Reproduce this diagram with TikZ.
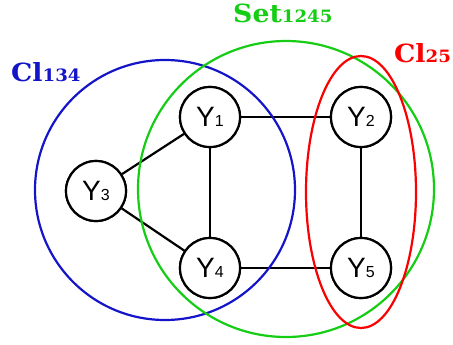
\documentclass[tikz,border=0pt]{standalone}
\usepackage{fontspec}
\newfontfamily\nodefont{Liberation Sans}
\newfontfamily\lblfont{DejaVu Serif}
\definecolor{setgreen}{RGB}{20,205,20}
\definecolor{clblue}{RGB}{20,20,200}
\definecolor{clred}{RGB}{250,0,0}
\newcommand{\grplabel}[2]{\scalebox{1.07}[1]{\lblfont\bfseries\fontsize{25}{25}\selectfont #1{\fontsize{17}{17}\selectfont #2}}}
\newcommand{\ysub}[1]{{\fontsize{16}{16}\selectfont #1}}
\begin{document}
\begin{tikzpicture}[x=1pt,y=-1pt,
  vnode/.style={circle,draw=black,line width=2.2pt,fill=white,minimum size=60pt,inner sep=0pt,font=\nodefont\fontsize{28}{28}\selectfont},
  edge/.style={line width=2.2pt,black},
  grp/.style={line width=2.2pt},
  lbl/.style={anchor=base west,inner sep=0pt}]
\useasboundingbox (0,0) rectangle (453,345);
\node[vnode] (y1) at (210,117) {Y\ysub{1}};
\node[vnode] (y2) at (361,117) {Y\ysub{2}};
\node[vnode] (y3) at (96,191) {Y\ysub{3}};
\node[vnode] (y4) at (210,268) {Y\ysub{4}};
\node[vnode] (y5) at (361,268) {Y\ysub{5}};
\draw[edge] (y1) -- (y2);
\draw[edge] (y1) -- (y4);
\draw[edge] (y1) -- (y3);
\draw[edge] (y3) -- (y4);
\draw[edge] (y4) -- (y5);
\draw[edge] (y2) -- (y5);
\draw[grp,clblue] (165,190) circle [radius=130];
\draw[grp,setgreen] (286,189) ellipse [x radius=148, y radius=148];
\draw[grp,clred] (361,192) ellipse [x radius=55, y radius=136];
\node[vnode] at (y1) {Y\ysub{1}};
\node[vnode] at (y2) {Y\ysub{2}};
\node[vnode] at (y3) {Y\ysub{3}};
\node[vnode] at (y4) {Y\ysub{4}};
\node[vnode] at (y5) {Y\ysub{5}};
\node[lbl,setgreen] (lset) at (233,23) {\grplabel{Set}{1245}};
\node[lbl,clblue] (lc1) at (11,82) {\grplabel{Cl}{134}};
\node[lbl,clred] (lc2) at (394,63) {\grplabel{Cl}{25}};
\end{tikzpicture}
\end{document}
